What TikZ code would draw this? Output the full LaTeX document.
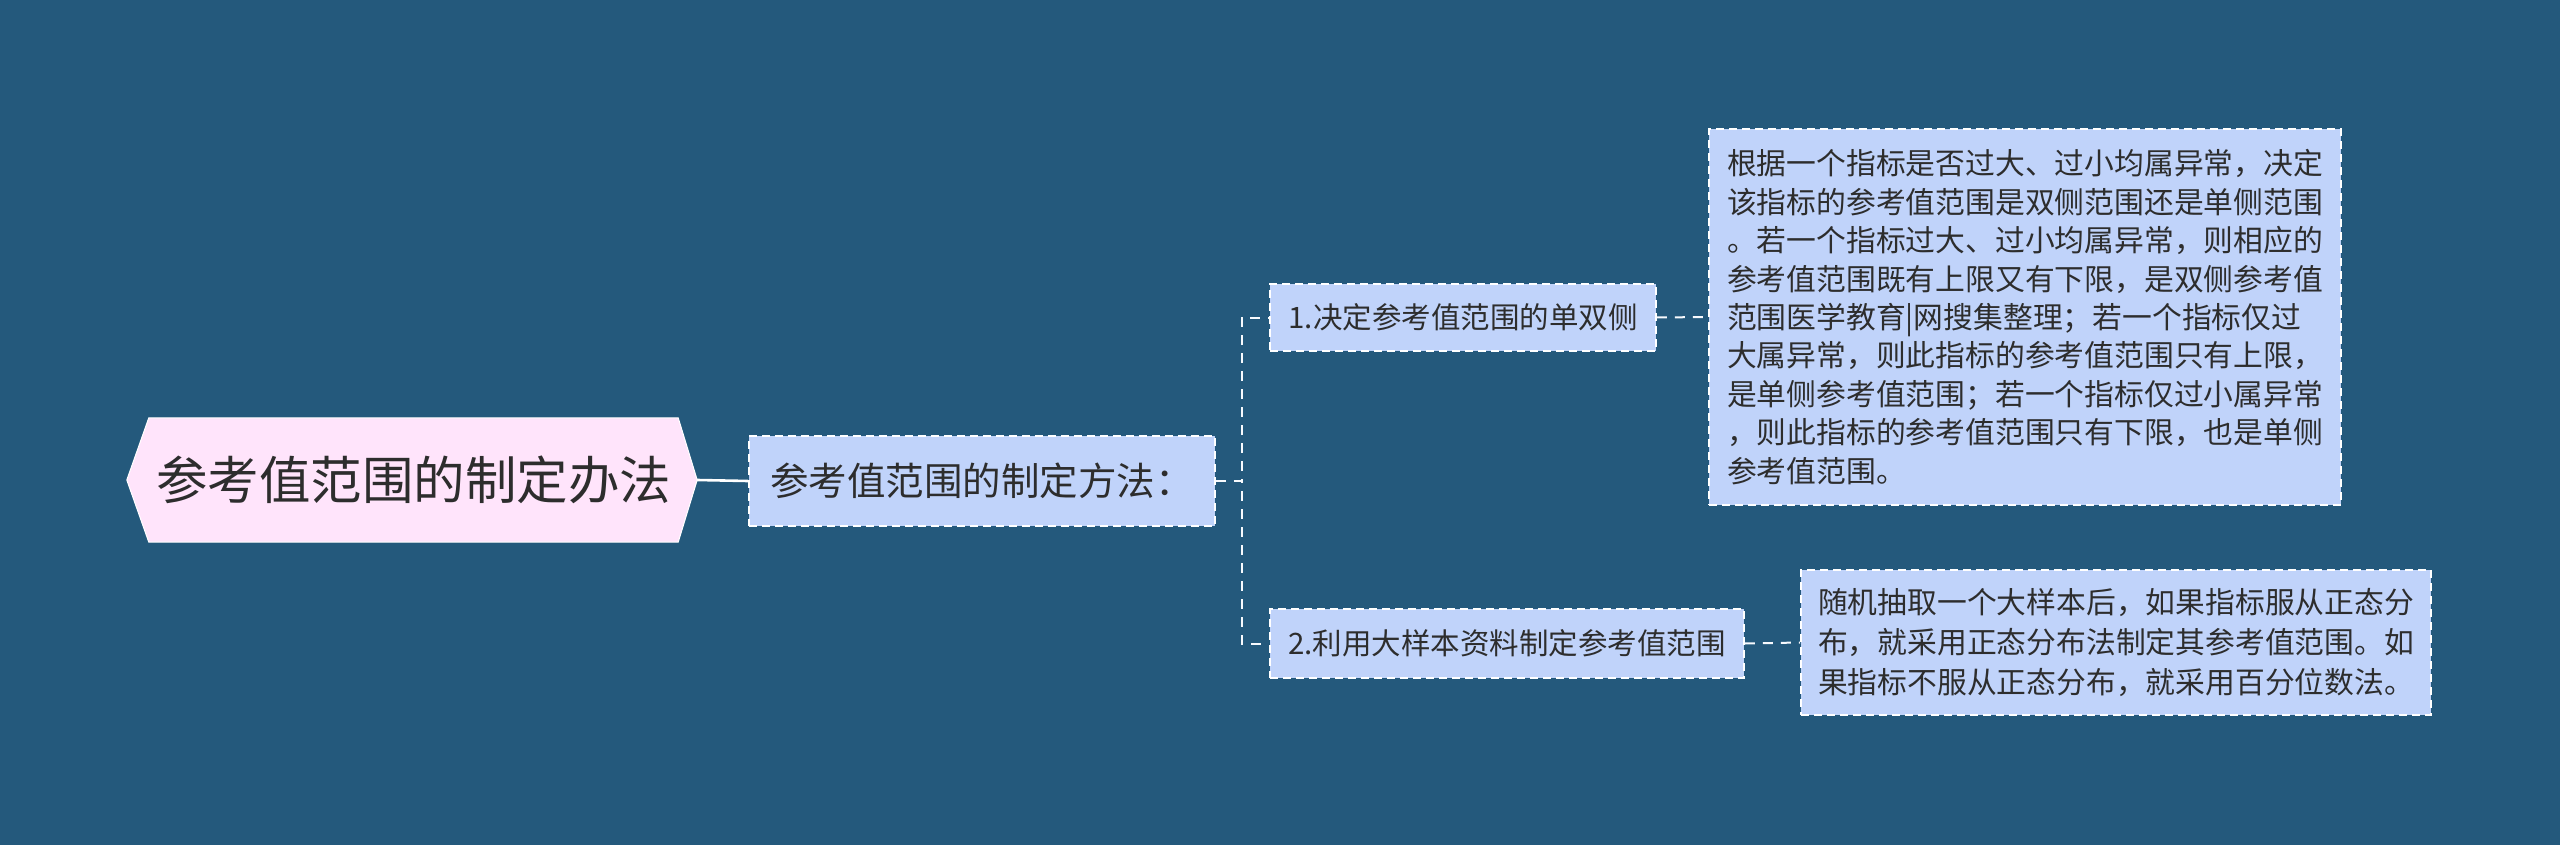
\documentclass[tikz,border=0pt]{standalone}
\usepackage{fontspec}
\setmainfont{Noto Sans CJK SC}
\definecolor{bg}{RGB}{36,89,124}
\definecolor{boxfill}{RGB}{192,211,250}
\definecolor{rootfill}{RGB}{255,228,251}
\definecolor{txt}{RGB}{45,45,45}
\begin{document}
\begin{tikzpicture}[x=1pt,y=-1pt,
  box/.style={draw=white, dash pattern=on 8pt off 5pt, line width=1.8pt, fill=boxfill, text=txt, inner sep=0pt, align=left},
  conn/.style={draw=white!88!boxfill, line width=2pt, dash pattern=on 10pt off 8pt},
  solidconn/.style={draw=white, line width=2.6pt}]
\fill[bg] (0,0) rectangle (2560,845);
\useasboundingbox (0,0) rectangle (2560,845);
% root
\node[inner sep=0pt, minimum width=529pt, minimum height=124pt] (root) at (413.5,480) {};
\coordinate (rootR) at ([xshift=19pt]root.east);
\coordinate (rootL) at ([xshift=-22pt]root.west);
\filldraw[fill=rootfill, draw=white, line width=1pt] (root.north west) -- (root.north east) -- (rootR) -- (root.south east) -- (root.south west) -- (rootL) -- cycle;
\node[text=txt, font=\fontsize{51.5}{60}\selectfont] (roottext) at (root.center) {参考值范围的制定办法};
% level 1
\node[box, minimum width=466pt, minimum height=90pt, font=\fontsize{38.5}{44}\selectfont] (l1) at (982,481) {参考值范围的制定方法：};
% level 2
\node[box, minimum width=386pt, minimum height=67pt, font=\fontsize{29.5}{36}\selectfont] (b1) at (1463,317.5) {1.决定参考值范围的单双侧};
\node[box, minimum width=474pt, minimum height=69pt, font=\fontsize{29.5}{36}\selectfont] (b2) at (1507,643.5) {2.利用大样本资料制定参考值范围};
% leaves
\node[box, minimum width=632pt, minimum height=376pt, font=\fontsize{29.8}{38.4}\selectfont] (leaf1) at (2025,317) {根据一个指标是否过大、过小均属异常，决定\\该指标的参考值范围是双侧范围还是单侧范围\\。若一个指标过大、过小均属异常，则相应的\\参考值范围既有上限又有下限，是双侧参考值\\范围医学教育|网搜集整理；若一个指标仅过\\大属异常，则此指标的参考值范围只有上限，\\是单侧参考值范围；若一个指标仅过小属异常\\，则此指标的参考值范围只有下限，也是单侧\\参考值范围。};
\node[box, minimum width=630pt, minimum height=145pt, font=\fontsize{29.8}{40}\selectfont] (leaf2) at (2116,642.5) {随机抽取一个大样本后，如果指标服从正态分\\布，就采用正态分布法制定其参考值范围。如\\果指标不服从正态分布，就采用百分位数法。};
% connectors
\draw[solidconn] (rootR) -- (l1.west);
\draw[conn] (l1.east) -- ++(26,0) |- (b1.west);
\draw[conn] (l1.east) -- ++(26,0) |- (b2.west);
\draw[conn] (b1.east) -- (leaf1.west);
\draw[conn] (b2.east) -- (leaf2.west);
\end{tikzpicture}
\end{document}
